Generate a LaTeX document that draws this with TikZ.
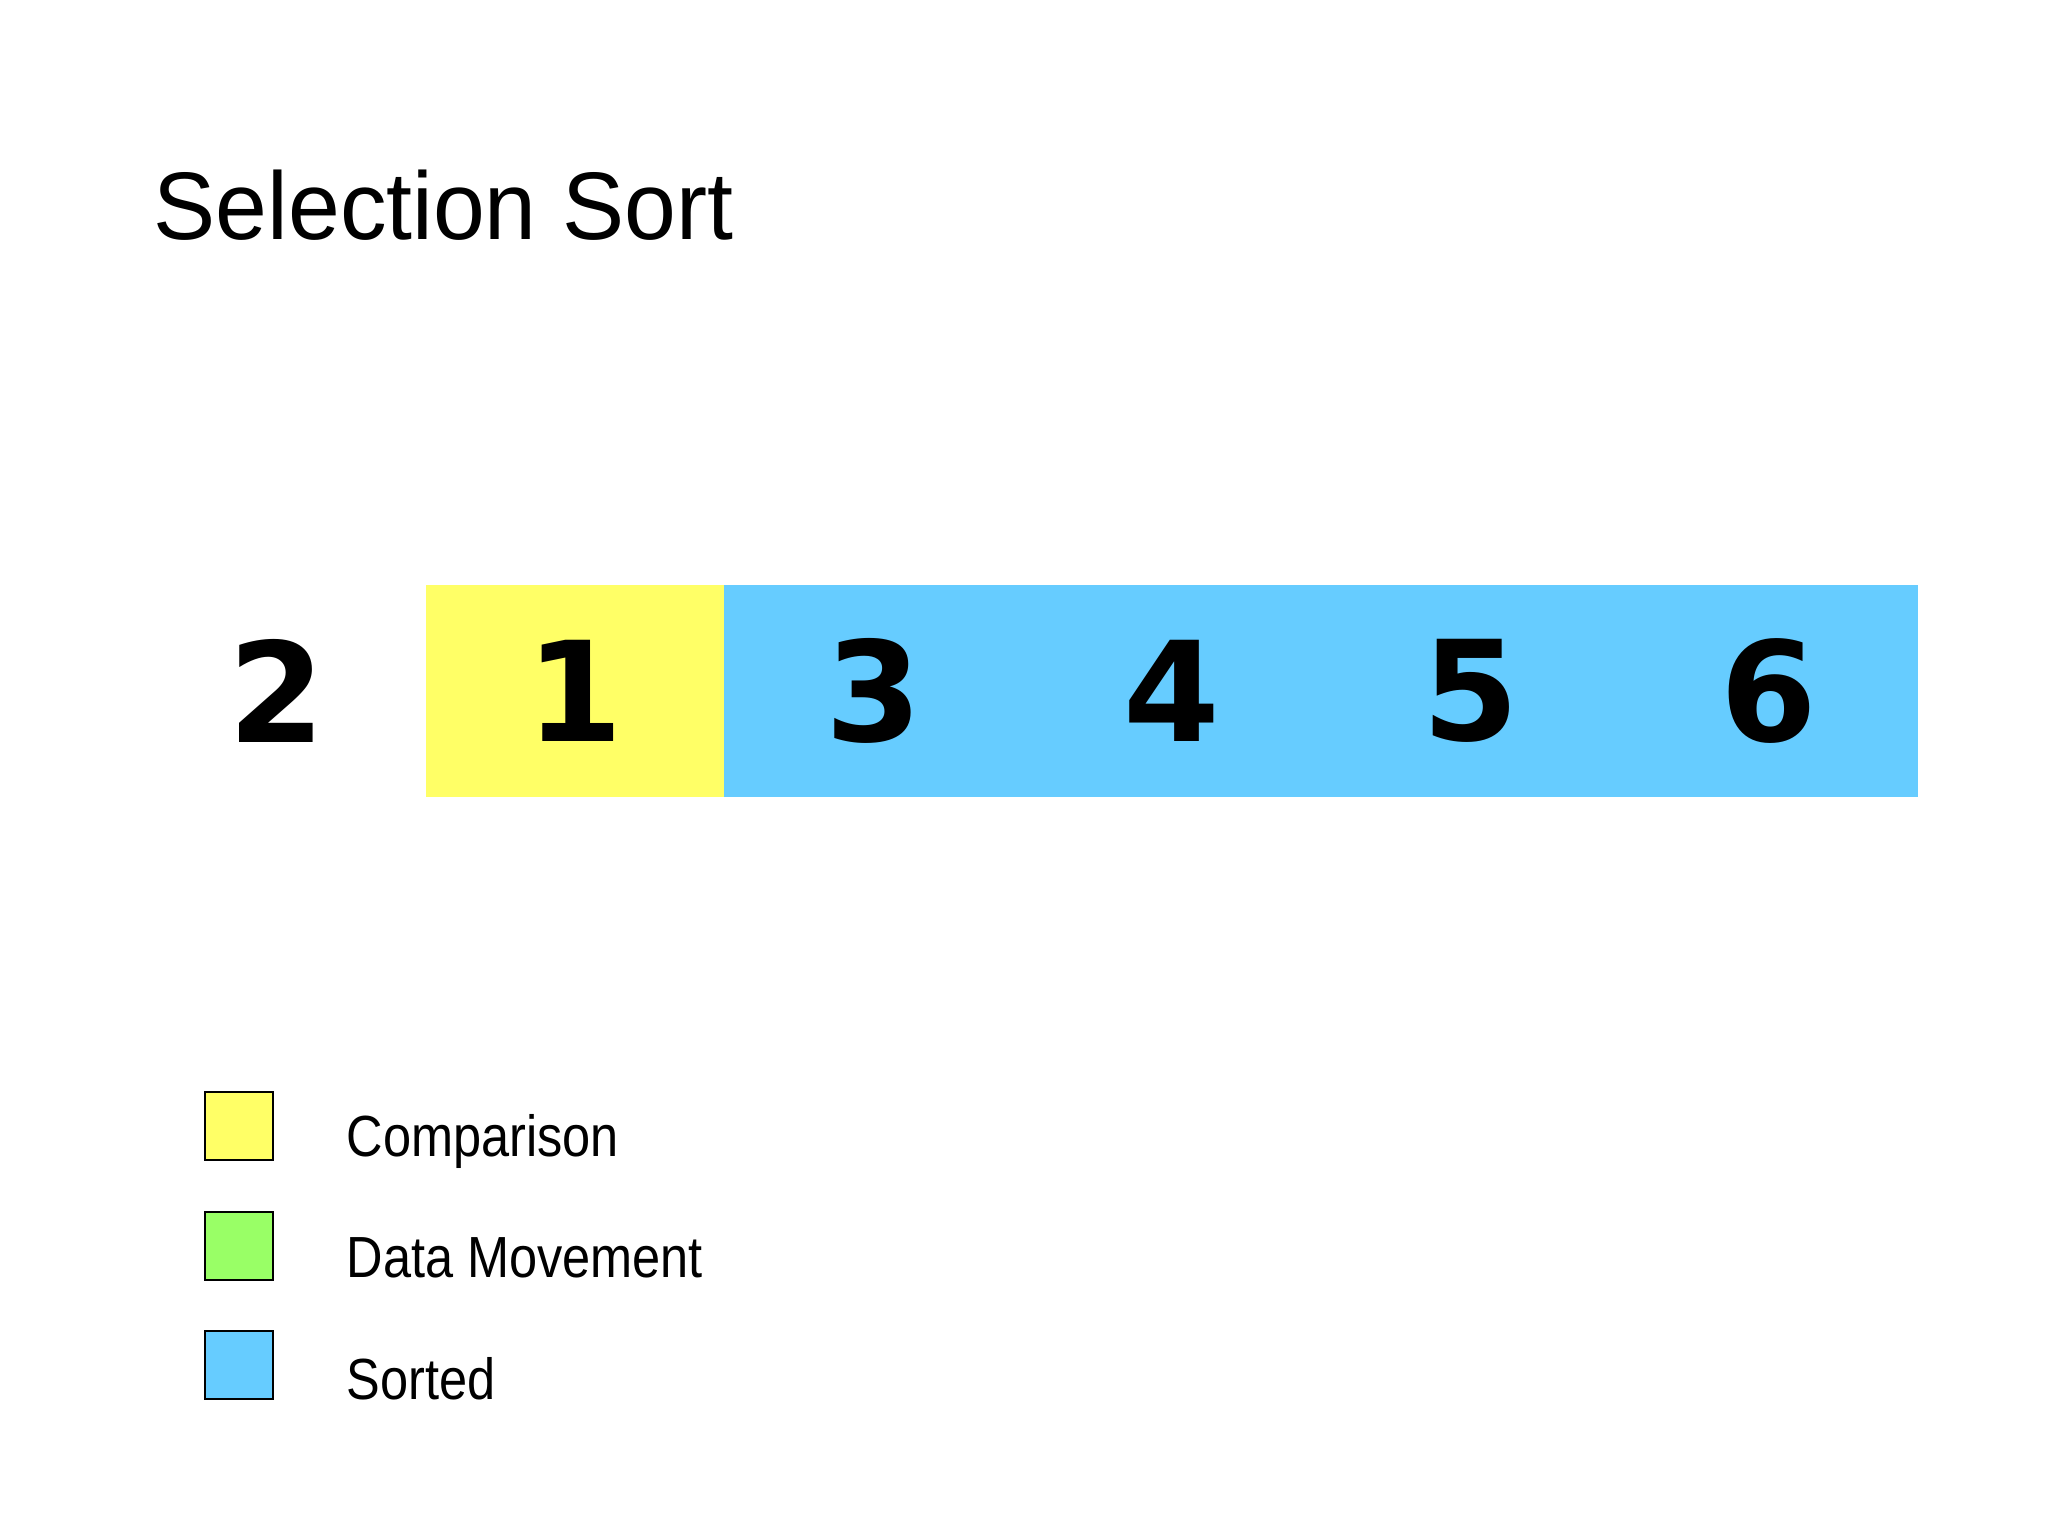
\documentclass[tikz,border=0pt]{standalone}
\usepackage{fontspec}
\setmainfont{Liberation Sans}
\newfontfamily\digitfont{DejaVu Sans}
\definecolor{cmpyellow}{HTML}{FFFF66}
\definecolor{movegreen}{HTML}{99FF66}
\definecolor{sortblue}{HTML}{66CCFF}
\begin{document}
\begin{tikzpicture}[x=0.01cm,y=-0.01cm,
  cell/.style={minimum width=298.5*0.01cm, minimum height=212*0.01cm, inner sep=0pt, draw=none,
    font=\digitfont\bfseries\fontsize{39.5}{46}\selectfont},
  legbox/.style={draw=black, line width=0.5pt, minimum size=68*0.01cm, inner sep=0pt},
  legtext/.style={anchor=base west, inner sep=0pt, xscale=0.87, font=\fontsize{16.5}{20}\selectfont}]
\useasboundingbox[fill=white] (0,0) rectangle (2048,1536);
% title
\node[anchor=base west, inner sep=0pt, xscale=0.97, font=\fontsize{27.3}{32}\selectfont] (title) at (153,239) {Selection Sort};
% cells
\node[cell] (c0) at (276.5,691) {2};
\node[cell, fill=cmpyellow] (c1) at (575,691) {1};
\node[cell, fill=sortblue] (c2) at (873.5,691) {3};
\node[cell, fill=sortblue] (c3) at (1172,691) {4};
\node[cell, fill=sortblue] (c4) at (1470.5,691) {5};
\node[cell, fill=sortblue] (c5) at (1769,691) {6};
% legend
\node[legbox, fill=cmpyellow] (l1) at (239,1126) {};
\node[legbox, fill=movegreen] (l2) at (239,1246) {};
\node[legbox, fill=sortblue] (l3) at (239,1365) {};
\node[legtext] (t1) at (346,1156) {Comparison};
\node[legtext] (t2) at (346,1277) {Data Movement};
\node[legtext] (t3) at (346,1399) {Sorted};
\end{tikzpicture}
\end{document}
